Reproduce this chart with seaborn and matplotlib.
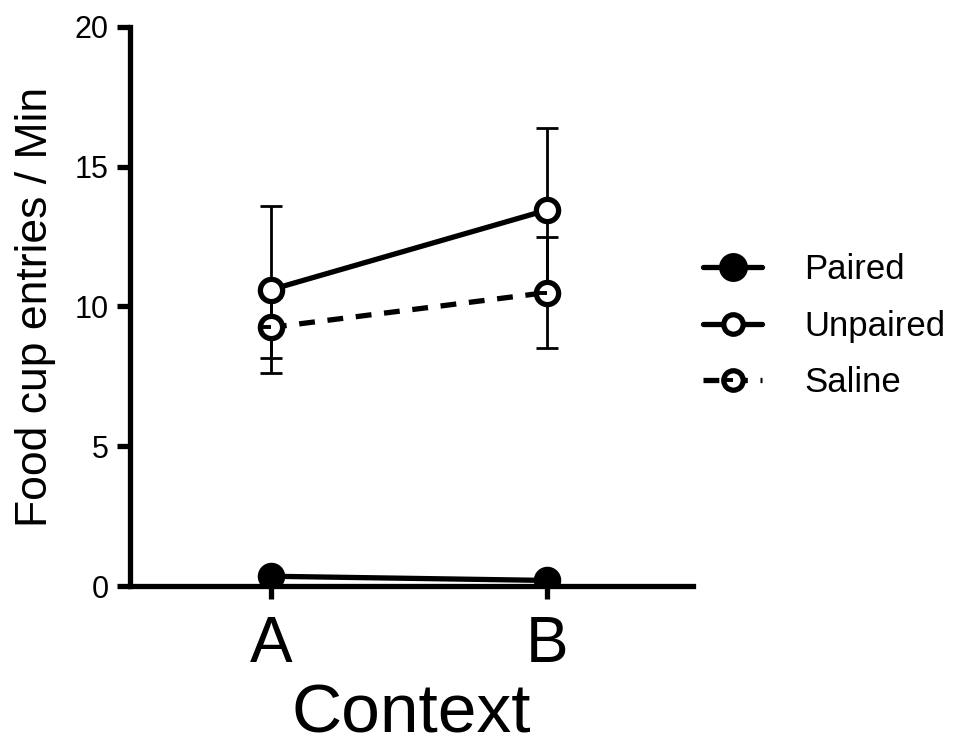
import matplotlib
matplotlib.use("Agg")
import matplotlib.pyplot as plt
import seaborn as sns
import numpy as np
import pandas as pd
from matplotlib.lines import Line2D
from matplotlib.path import Path

contexts = ["A", "B"]
groups = ["Paired", "Unpaired", "Saline"]
paired_mean = [0.35, 0.2]
paired_sem = [0.1, 0.06]
unpaired_mean = [10.6, 13.45]
unpaired_sem = [2.98, 2.95]
saline_mean = [9.25, 10.5]
saline_sem = [1.1, 2.0]
y_ticks = [0, 5, 10, 15, 20]

sns.set_theme(style="ticks")
plt.rcParams['font.family'] = ['Liberation Sans', 'DejaVu Sans']

df = pd.DataFrame({
    "Context": contexts * 3,
    "Group": np.repeat(groups, 2),
    "Mean": paired_mean + unpaired_mean + saline_mean,
    "SEM": paired_sem + unpaired_sem + saline_sem,
})

fig = plt.figure(figsize=(9.71, 7.45), dpi=100)
ax = fig.add_axes([0.134, 0.2134, 0.58, 0.7504])

LW = 3.8
styles = {
    "Paired": dict(ls="-", mfc="black"),
    "Unpaired": dict(ls="-", mfc="white"),
    "Saline": dict(ls=(0, (3.0, 2.4)), mfc="white"),
}
half_line = Path([(-1.0, 0.0), (0.0, 0.0)], [Path.MOVETO, Path.LINETO])

for g in groups:
    sub = df[df.Group == g]
    x = np.arange(len(sub))
    ax.errorbar(x, sub.Mean, yerr=sub.SEM, fmt="none", ecolor="black",
                elinewidth=2.0, capsize=8, capthick=2.0, zorder=2)
    sns.lineplot(data=sub, x="Context", y="Mean", ax=ax, color="black",
                 linewidth=LW, linestyle=styles[g]["ls"], zorder=3,
                 legend=False, errorbar=None, sort=False)
    ax.plot(x, sub.Mean, ls="none", marker="o", ms=16, mfc=styles[g]["mfc"],
            mec="black", mew=LW, zorder=4)
    if g == "Saline":
        ax.plot(x, sub.Mean, ls="none", marker=half_line, ms=12, mec="black",
                mew=2.8, zorder=5)

ax.set_xlim(-0.51, 1.53)
ax.set_ylim(0, 20)
ax.set_yticks(y_ticks)
ax.set_xticks([0, 1])
ax.set_xticklabels(contexts)
sns.despine(ax=ax)
for s in ["left", "bottom"]:
    ax.spines[s].set_linewidth(LW)
    ax.spines[s].set_color("black")
    ax.spines[s].set_capstyle("projecting")
ax.tick_params(axis="y", length=9.5, width=LW, labelsize=22, pad=6, colors="black")
ax.tick_params(axis="x", length=9, width=LW, labelsize=46, pad=12, colors="black")
ax.set_xlabel("Context", fontsize=50, labelpad=5, color="black")
ax.set_ylabel("Food cup entries / Min", fontsize=32, labelpad=13, color="black")

handles = []
for g in groups:
    ms = 17 if g == "Paired" else 14
    h = Line2D([0], [0], color="black", lw=LW, ls=styles[g]["ls"],
               marker="o", ms=ms, mfc=styles[g]["mfc"], mec="black", mew=LW)
    if g == "Saline":
        h2 = Line2D([0], [0], ls="none", marker=half_line, ms=10, mec="black", mew=2.8)
        h = (h, h2)
    handles.append(h)
leg = fig.legend(handles, groups, loc="center left", bbox_to_anchor=(0.692, 0.562),
                 frameon=False, fontsize=25, handlelength=1.7, labelspacing=0.68,
                 handletextpad=1.2)
for t in leg.get_texts():
    t.set_color("black")

fig.savefig("out.png", dpi=100)
